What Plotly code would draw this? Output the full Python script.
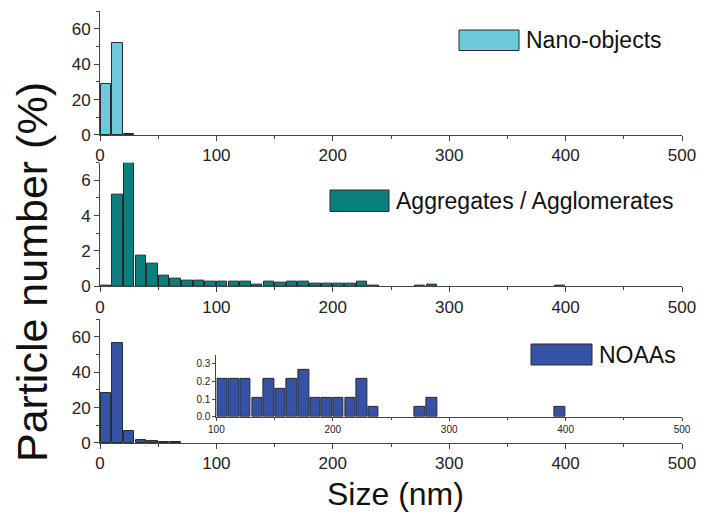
import plotly.graph_objects as go

# bin centres (10 nm bins)
nano_size = [5, 15, 25]
nano_pct = [29.0, 51.8, 0.7]

agg_size = [5, 15, 25, 35, 45, 55, 65, 75, 85, 95, 105, 115, 125, 135, 145,
            155, 165, 175, 185, 195, 205, 215, 225, 235, 275, 285, 395]
agg_pct = [0.03, 5.19, 7.0, 1.72, 1.27, 0.62, 0.43, 0.34, 0.34, 0.23, 0.23, 0.23, 0.23, 0.09, 0.25,
           0.19, 0.25, 0.28, 0.13, 0.13, 0.13, 0.13, 0.25, 0.03, 0.03, 0.09, 0.03]

noaa_size = [5, 15, 25, 35, 45, 55, 65]
noaa_pct = [28.5, 56.7, 6.9, 1.5, 0.94, 0.4, 0.4]

# NOAAs tail shown in the inset
tail_size = [105, 115, 125, 135, 145, 155, 165, 175, 185, 195, 205, 215, 225, 235, 275, 285, 395]
tail_pct = [0.213, 0.213, 0.213, 0.107, 0.213, 0.16, 0.213, 0.267, 0.107, 0.107, 0.107, 0.107,
            0.213, 0.053, 0.053, 0.107, 0.053]

colors = ['#6ACCDB', '#0B7E7E', '#3652A6']
labels = ['Nano-objects', 'Aggregates / Agglomerates', 'NOAAs']
FONT = 'Liberation Sans, Arial, sans-serif'

fig = go.Figure()

panels = [(nano_size, nano_pct, 'y'), (agg_size, agg_pct, 'y2'), (noaa_size, noaa_pct, 'y3')]
for i, (xs, ys, yax) in enumerate(panels):
    fig.add_trace(go.Bar(
        x=xs, y=ys, width=9, xaxis='x' if i == 0 else 'x%d' % (i + 1), yaxis=yax,
        marker=dict(color=colors[i], line=dict(color='#2a2a2a', width=1)),
        showlegend=False, name=labels[i]
    ))

fig.add_trace(go.Bar(
    x=tail_size, y=tail_pct, width=9, xaxis='x4', yaxis='y4',
    marker=dict(color=colors[2], line=dict(color='#2a2a2a', width=1)),
    showlegend=False, name='NOAAs (inset)'
))

xcommon = dict(range=[0, 500], dtick=100, ticks='outside', ticklen=5, tickwidth=1,
               showline=True, linecolor='#444', linewidth=1, tickcolor='#444',
               showgrid=False, zeroline=False,
               minor=dict(dtick=50, ticks='outside', ticklen=3, tickcolor='#444'),
               tickfont=dict(family=FONT, size=17, color='#222'))
ycommon = dict(ticks='outside', ticklen=5, tickwidth=1, showline=True, linecolor='#444',
               linewidth=1, tickcolor='#444', showgrid=False, zeroline=False,
               tickfont=dict(family=FONT, size=17, color='#222'))

doms = [[0.713, 1.0], [0.363, 0.649], [0.0, 0.287]]
yranges = [[0, 70], [0, 7], [0, 70]]
ydticks = [20, 2, 20]
layout = {}
for i in range(3):
    xn = 'xaxis' if i == 0 else 'xaxis%d' % (i + 1)
    yn = 'yaxis' if i == 0 else 'yaxis%d' % (i + 1)
    layout[xn] = dict(xcommon, anchor='y' if i == 0 else 'y%d' % (i + 1), domain=[0, 1])
    layout[yn] = dict(ycommon, anchor='x' if i == 0 else 'x%d' % (i + 1), domain=doms[i],
                      range=yranges[i], dtick=ydticks[i],
                      minor=dict(dtick=ydticks[i] / 2, ticks='outside', ticklen=3, tickcolor='#444'))

# inset axes
layout['xaxis4'] = dict(range=[100, 500], dtick=100, domain=[0.2, 1.0], anchor='y4',
                        ticks='outside', ticklen=3, showline=True, linecolor='#444',
                        tickcolor='#444', showgrid=False, zeroline=False,
                        minor=dict(dtick=50, ticks='outside', ticklen=2, tickcolor='#444'),
                        tickfont=dict(family=FONT, size=10, color='#222'))
layout['yaxis4'] = dict(range=[0, 0.35], dtick=0.1, tickformat='.1f', domain=[0.061, 0.204],
                        anchor='x4', ticks='outside', ticklen=3, showline=True, linecolor='#444',
                        tickcolor='#444', showgrid=False, zeroline=False,
                        tickfont=dict(family=FONT, size=10, color='#222'))

fig.update_layout(**layout)

# legend boxes drawn by hand (big swatches like the original)
legend_pos = [  # (x0, x1, y0, y1) in paper coords of swatch
    ((459 - 100) / 582, (519 - 100) / 582, (443 - 50.5) / 432, (443 - 30) / 432),
    ((330 - 100) / 582, (389 - 100) / 582, (443 - 211.5) / 432, (443 - 190) / 432),
    ((531 - 100) / 582, (592 - 100) / 582, (443 - 365) / 432, (443 - 344) / 432),
]
for i, (x0, x1, y0, y1) in enumerate(legend_pos):
    fig.add_shape(type='rect', xref='paper', yref='paper', x0=x0, x1=x1, y0=y0, y1=y1,
                  fillcolor=colors[i], line=dict(color='#2a2a2a', width=1))
    fig.add_annotation(xref='paper', yref='paper', x=x1 + 0.008, y=(y0 + y1) / 2,
                       text=labels[i], showarrow=False, xanchor='left', yanchor='middle',
                       font=dict(family=FONT, size=23, color='#111'))

fig.add_annotation(xref='paper', yref='paper', x=(32 - 100) / 582, y=(443 - 272) / 432,
                   text='Particle number (%)', textangle=-90, showarrow=False,
                   xanchor='center', yanchor='middle',
                   font=dict(family=FONT, size=43, color='#111'))
fig.add_annotation(xref='paper', yref='paper', x=(395 - 100) / 582, y=(443 - 494) / 432,
                   text='Size (nm)', showarrow=False, xanchor='center', yanchor='middle',
                   font=dict(family=FONT, size=32, color='#111'))

fig.update_layout(
    width=713, height=514,
    margin=dict(l=100, r=31, t=11, b=71),
    paper_bgcolor='white', plot_bgcolor='rgba(0,0,0,0)',
    bargap=0, showlegend=False,
    font=dict(family=FONT)
)

fig.write_html("out.html", config={'displayModeBar': False},
               post_script="document.body.style.margin='0';")
